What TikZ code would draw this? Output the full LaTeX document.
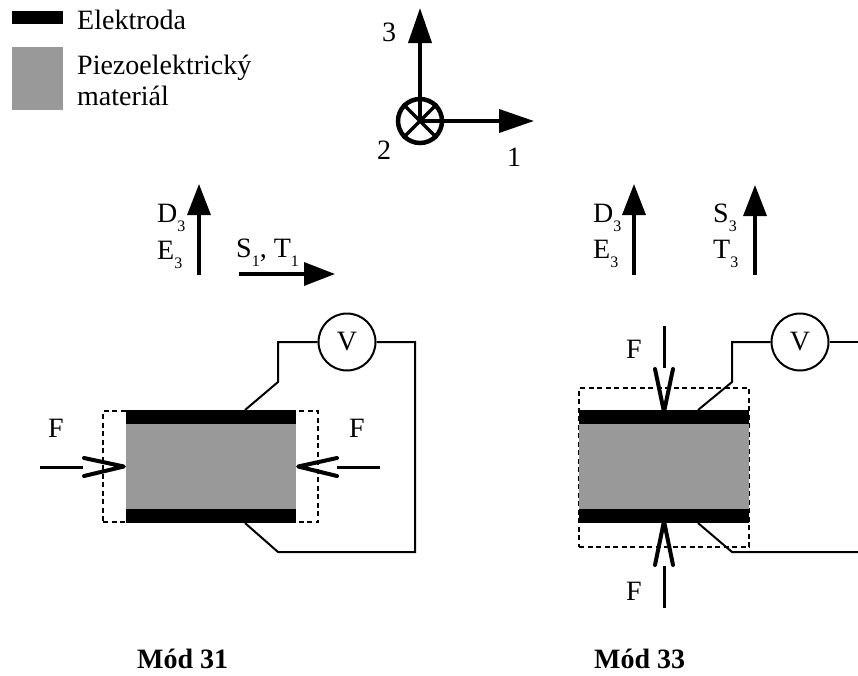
\documentclass[tikz,border=0pt]{standalone}
\usepackage{fontspec}
\setmainfont{Liberation Serif}
\usetikzlibrary{arrows.meta}
\newcommand{\lowidx}[1]{{\fontsize{16}{16}\selectfont\raisebox{-9pt}{#1}}}
\definecolor{piezogray}{HTML}{999999}
\tikzset{
	txt/.style={
		% The text:
		inner sep=0pt,anchor=base west,
		font=\fontsize{28}{28}\selectfont,
	}}
\tikzset{
	modtxt/.style={
		inner sep=0pt,anchor=base west,
		font=\fontsize{28}{28}\selectfont\bfseries,
	}}
\tikzset{
	electrode/.style={
		% The filling:
		fill=black,inner sep=0pt,
		minimum width=170pt,minimum height=14pt,
	}}
\tikzset{
	piezo/.style={
		fill=piezogray,inner sep=0pt,
		minimum width=170pt,minimum height=85pt,
	}}
\tikzset{
	meter/.style={
		% The shape:
		circle,minimum size=57pt,inner sep=0pt,
		% The border:
		draw=black,line width=2pt,
		font=\fontsize{28}{28}\selectfont,
	}}
\tikzset{
	bigarrow/.style={
		-{Triangle[length=31pt,width=23pt]},line width=3.4pt,
	}}
\tikzset{
	axisarrow/.style={
		-{Triangle[length=35pt,width=23pt]},line width=3.8pt,
	}}
\tikzset{
	wire/.style={line width=2pt,line join=miter}}
\tikzset{
	barb/.style={line width=4pt,line cap=round,line join=round}}
\tikzset{
	shaft/.style={line width=3pt}}
\tikzset{
	deform/.style={
		draw=black,line width=2pt,dash pattern=on 5pt off 3.5pt,
	}}
\begin{document}
\begin{tikzpicture}[x=1pt,y=-1pt]
	\useasboundingbox (0,0) rectangle (858,675);
	% legend
	\node[electrode,minimum width=51pt,minimum height=13pt,anchor=north west] (legE) at (12,11) {};
	\node[piezo,minimum width=51pt,minimum height=63pt,anchor=north west] (legP) at (12,47) {};
	\node[txt] (legEtext) at (77,29) {Elektroda};
	\node[txt] (legPtext) at (77,74) {Piezoelektrický};
	\node[txt] (legMtext) at (77,105) {materiál};
	% axes
	\node[circle,draw=black,line width=4.5pt,minimum size=44pt,inner sep=0pt] (origin) at (420,121) {};
	\coordinate (ax3) at (420,8);
	\coordinate (ax1) at (534,121);
	\draw[axisarrow] (origin.center) -- (ax3);
	\draw[axisarrow] (origin.center) -- (ax1);
	\draw[line width=3.3pt] (origin.45) -- (origin.225);
	\draw[line width=3.3pt] (origin.135) -- (origin.315);
	\node[txt,anchor=center] (ax3text) at (389,32) {3};
	\node[txt,anchor=center] (ax2text) at (384,150) {2};
	\node[txt,anchor=center] (ax1text) at (514,157) {1};
	% field and strain arrows, left
	\coordinate (a0) at (199,275);
	\coordinate (a1) at (199,184);
	\coordinate (b0) at (239,274);
	\coordinate (b1) at (335,274);
	\draw[bigarrow] (a0) -- (a1);
	\draw[bigarrow] (b0) -- (b1);
	\node[txt] (leftD) at (157,222) {D\lowidx{3}};
	\node[txt] (leftE) at (157,259) {E\lowidx{3}};
	\node[txt] (leftS) at (236,257) {S\lowidx{1}, T\lowidx{1}};
	% field and strain arrows, right
	\coordinate (c0) at (634,275);
	\coordinate (c1) at (634,184);
	\coordinate (d0) at (755,275);
	\coordinate (d1) at (755,185);
	\draw[bigarrow] (c0) -- (c1);
	\draw[bigarrow] (d0) -- (d1);
	\node[txt] (rightD) at (593,222) {D\lowidx{3}};
	\node[txt] (rightE) at (593,258) {E\lowidx{3}};
	\node[txt] (rightS) at (713,222) {S\lowidx{3}};
	\node[txt] (rightT) at (713,258) {T\lowidx{3}};
	% mode 31
	\node[deform,inner sep=0pt,minimum width=215pt,minimum height=111pt] (dashL) at (210.5,466.5) {};
	\node[piezo] (pzL) at (211,466.5) {};
	\node[electrode] (topL) at (211,417) {};
	\node[electrode] (botL) at (211,516) {};
	\node[meter] (vL) at (347,342) {V};
	\coordinate (topLw) at (245,410);
	\coordinate (botLw) at (245,523);
	\draw[wire] (vL.west) -- (278,342) -- (278,382) -- (topLw);
	\draw[wire] (vL.east) -- (415,342) -- (415,552) -- (278,552) -- (botLw);
	\coordinate (fL0) at (40,467);
	\coordinate (fL1) at (83,467);
	\coordinate (fR0) at (380,467);
	\coordinate (fR1) at (337,467);
	\draw[shaft] (fL0) -- (fL1);
	\draw[shaft] (fR0) -- (fR1);
	\draw[barb] (84,458) -- ([xshift=-2pt]pzL.west) -- (84,476);
	\draw[barb] (337,458) -- ([xshift=2pt]pzL.east) -- (337,476);
	\node[txt,anchor=center] (fLtext) at (56,428) {F};
	\node[txt,anchor=center] (fRtext) at (357,428) {F};
	% mode 33
	\node[deform,inner sep=0pt,minimum width=170pt,minimum height=159pt] (dashR) at (664,467.5) {};
	\node[piezo] (pzR) at (664,466.5) {};
	\node[electrode] (topR) at (664,417) {};
	\node[electrode] (botR) at (664,516) {};
	\node[meter] (vR) at (800,342) {V};
	\coordinate (topRw) at (698,410);
	\coordinate (botRw) at (698,523);
	\coordinate (edgeT) at (858,342);
	\coordinate (edgeB) at (858,552);
	\draw[wire] (vR.west) -- (732,342) -- (732,382) -- (topRw);
	\draw[wire] (vR.east) -- (edgeT);
	\draw[wire] (botRw) -- (732,552) -- (edgeB);
	\coordinate (fT0) at (664,326);
	\coordinate (fT1) at (664,368);
	\coordinate (fB0) at (664,608);
	\coordinate (fB1) at (664,566);
	\draw[shaft] (fT0) -- (fT1);
	\draw[shaft] (fB0) -- (fB1);
	\draw[barb] (655,369) -- ([yshift=-2pt]topR.north) -- (673,369);
	\draw[barb] (655,565) -- ([yshift=2pt]botR.south) -- (673,565);
	\node[txt,anchor=center] (fTtext) at (634,349) {F};
	\node[txt,anchor=center] (fBtext) at (634,591) {F};
	% captions
	\node[modtxt] (mod31) at (137,668) {Mód 31};
	\node[modtxt] (mod33) at (594,668) {Mód 33};
\end{tikzpicture}
\end{document}
